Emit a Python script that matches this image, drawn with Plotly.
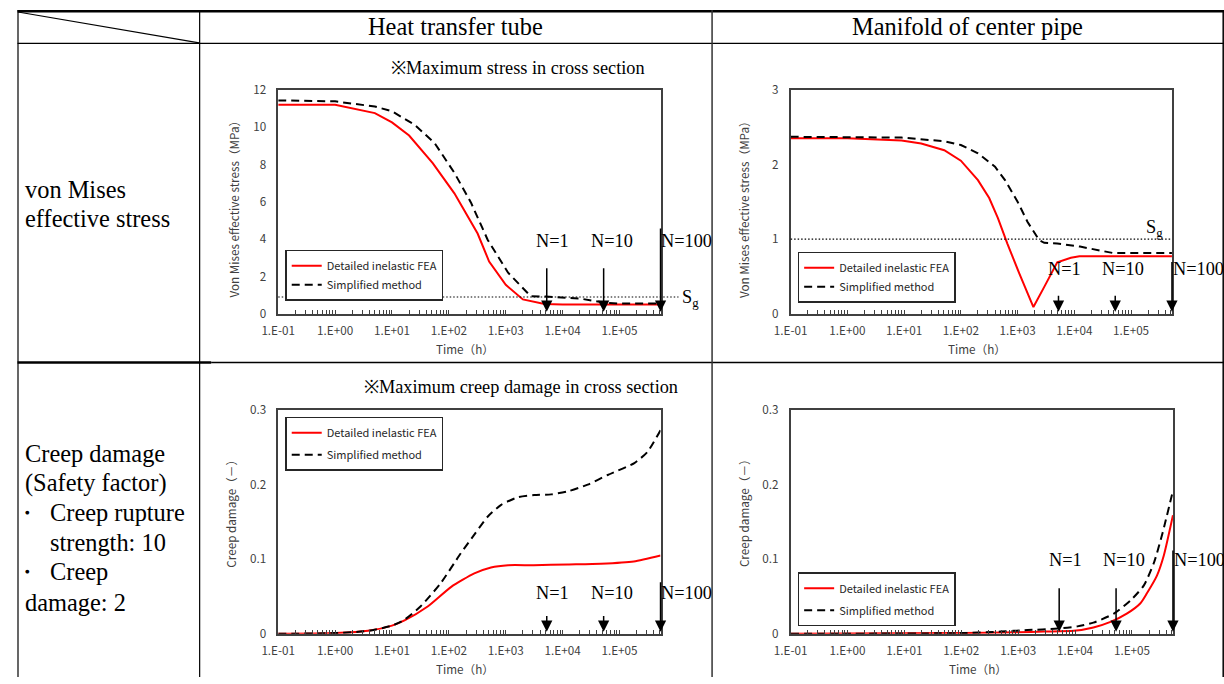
import math
import plotly.graph_objects as go

W, H = 1224, 684
SERIF = "'Liberation Serif', 'Times New Roman', serif"
SANS = "'Noto Sans CJK JP', 'Noto Sans', sans-serif"
FRAME = "#404040"
TXT = "#404040"

# placement helpers: page pixel position -> paper fraction
# (the figure is displayed inside the page box x 16..1222, y 8..677)
BOX_L, BOX_R, BOX_T, BOX_B = 16.0, 1222.0, 8.0, 677.0
SX = (BOX_R - BOX_L) / W
SY = (BOX_B - BOX_T) / H


def fx(x):
    return (x - BOX_L) / (BOX_R - BOX_L)


def fy(y):
    return 1 - (y - BOX_T) / (BOX_B - BOX_T)


def fs(size):
    return round(size / SX, 1)


# ---- time axis (hours) ----
T_END = 525600  # 60 years
TIME_TICKS = [1e-1, 1e0, 1e1, 1e2, 1e3, 1e4, 1e5]
TIME_TICK_TEXT = ["1.E-01", "1.E+00", "1.E+01", "1.E+02", "1.E+03", "1.E+04", "1.E+05"]
MINOR_TICKS = [m * 10 ** k for k in range(-1, 6) for m in range(2, 10) if m * 10 ** k <= T_END]

# cycle counts marked by arrows
N_TIMES = [5256, 52560, 525600]
N_LABELS = ["N=1", "N=10", "N=100"]

# ---- von Mises effective stress, heat transfer tube (MPa) ----
T_TUBE_FEA = [0.1, 1, 5, 10, 20, 52, 125, 320, 510, 1000, 2000, 4800, 10000, 525600]
S_TUBE_FEA = [11.2, 11.2, 10.75, 10.25, 9.55, 8.07, 6.45, 4.3, 2.8, 1.55, 0.77, 0.53, 0.5, 0.5]
T_TUBE_SIM = [0.1, 1, 5, 10, 25, 56, 125, 245, 480, 1100, 2750, 5000, 20000, 52560, 100000, 525600]
S_TUBE_SIM = [11.43, 11.38, 11.1, 10.85, 10.12, 9.15, 7.55, 5.95, 3.97, 2.2, 0.94, 0.92, 0.82, 0.6, 0.55, 0.55]
SG_TUBE = 0.9

# ---- von Mises effective stress, manifold of center pipe (MPa) ----
T_MAN_FEA = [0.1, 1, 9, 20, 51, 100, 200, 316, 450, 660, 1070, 1900, 2950, 5000, 8700, 12300, 525600]
S_MAN_FEA = [2.35, 2.35, 2.32, 2.28, 2.19, 2.05, 1.79, 1.55, 1.28, 0.94, 0.54, 0.09, 0.36, 0.69, 0.75, 0.77, 0.77]
T_MAN_SIM = [0.1, 9, 51, 100, 200, 400, 600, 1000, 1500, 2400, 2950, 5000, 12600, 47000, 525600]
S_MAN_SIM = [2.37, 2.36, 2.31, 2.26, 2.15, 1.97, 1.79, 1.50, 1.23, 0.985, 0.95, 0.94, 0.90, 0.815, 0.815]
SG_MAN = 1.0

# ---- creep damage, heat transfer tube (-) ----
T_DT_FEA = [0.1, 1, 3.8, 10, 16.6, 43, 110, 280, 550, 1100, 3100, 12300, 47000, 178000, 525600]
D_DT_FEA = [0.0, 0.001, 0.004, 0.011, 0.018, 0.037, 0.063, 0.081, 0.089, 0.092, 0.092, 0.093, 0.094, 0.097, 0.105]
T_DT_SIM = [0.1, 1, 3.8, 10, 16.6, 32, 72, 162, 280, 480, 830, 1620, 3160, 6300, 12300, 27500, 62000, 182000, 310000, 525600]
D_DT_SIM = [0.0, 0.001, 0.004, 0.011, 0.019, 0.037, 0.068, 0.108, 0.133, 0.157, 0.173, 0.183, 0.186, 0.187, 0.191, 0.200, 0.213, 0.229, 0.244, 0.273]

# ---- creep damage, manifold of center pipe (-) ----
T_DM_FEA = [0.1, 100, 1000, 2900, 9500, 21000, 42000, 81000, 141000, 182000, 275000, 363000, 525600]
D_DM_FEA = [0.0, 0.001, 0.002, 0.003, 0.004, 0.0085, 0.016, 0.027, 0.041, 0.054, 0.078, 0.105, 0.159]
T_DM_SIM = [0.1, 100, 490, 1450, 4900, 11000, 21000, 48000, 95000, 162000, 245000, 347000, 525600]
D_DM_SIM = [0.0, 0.001, 0.003, 0.005, 0.007, 0.010, 0.015, 0.027, 0.045, 0.065, 0.096, 0.136, 0.192]

NAME_FEA = "Detailed inelastic FEA"
NAME_SIM = "Simplified method"
STRESS_TITLE = "Von Mises effective stress（MPa）"
DAMAGE_TITLE = "Creep damage（－）"
TIME_TITLE = "Time（h）"

# panel layout: pixel box (left, top, right, bottom) and decorations
panels = [
    dict(box=(277, 88, 659, 312.7), yrange=(0, 12), dtick=2, ytitle=STRESS_TITLE, ytitle_xy=(232, 205),
         data=((T_TUBE_FEA, S_TUBE_FEA), (T_TUBE_SIM, S_TUBE_SIM)), shape="linear",
         legend=(284, 274), leg_gap=0, arrow_len=(46, 46, 85), label_y=240, sg=SG_TUBE, sg_x1=1.047,
         sg_label=dict(x=1.052, anchor="left", yanchor="middle", yshift=-2)),
    dict(box=(789, 88, 1170, 312.7), yrange=(0, 3), dtick=1, ytitle=STRESS_TITLE, ytitle_xy=(742, 205),
         data=((T_MAN_FEA, S_MAN_FEA), (T_MAN_SIM, S_MAN_SIM)), shape="linear",
         legend=(796, 276), leg_gap=0, arrow_len=(19, 19, 52), label_y=268, sg=SG_MAN, sg_x1=1.0,
         sg_label=dict(x=0.955, anchor="center", yanchor="bottom", yshift=-3)),
    dict(box=(277, 409.3, 659, 633.7), yrange=(0, 0.3), dtick=0.1, ytitle=DAMAGE_TITLE, ytitle_xy=(229, 510),
         data=((T_DT_FEA, D_DT_FEA), (T_DT_SIM, D_DT_SIM)), shape="spline",
         legend=(284, 443), leg_gap=3, arrow_len=(19, 19, 52), label_y=593, sg=None),
    dict(box=(789, 409.3, 1171, 633.7), yrange=(0, 0.3), dtick=0.1, ytitle=DAMAGE_TITLE, ytitle_xy=(742, 510),
         data=((T_DM_FEA, D_DM_FEA), (T_DM_SIM, D_DM_SIM)), shape="spline",
         legend=(796, 599), leg_gap=3, arrow_len=(46, 46, 83), label_y=560, sg=None),
]
LABEL_SHIFT = (6, 8, 26)

fig = go.Figure()
annotations = []
shapes = []
layout = {}

for i, p in enumerate(panels):
    k = "" if i == 0 else str(i + 1)
    L, T, R, B = p["box"]
    leg = "legend" + k
    (tf, vf), (ts, vs) = p["data"]
    line_kw = dict(shape=p["shape"], smoothing=0.6) if p["shape"] == "spline" else dict(shape="linear")
    fig.add_trace(go.Scatter(x=tf, y=vf, mode="lines", name=NAME_FEA, xaxis="x" + k, yaxis="y" + k,
                             legend=leg, legendgroup="fea" + k,
                             line=dict(color="#ff0000", width=2, **line_kw)))
    fig.add_trace(go.Scatter(x=ts, y=vs, mode="lines", name=NAME_SIM, xaxis="x" + k, yaxis="y" + k,
                             legend=leg, legendgroup="sim" + k,
                             line=dict(color="black", width=2, dash="8px,5px", **line_kw)))

    layout["xaxis" + k] = dict(
        type="log", range=[-1, math.log10(T_END)], domain=[fx(L), fx(R)], anchor="y" + k,
        tickmode="array", tickvals=TIME_TICKS, ticktext=TIME_TICK_TEXT,
        ticks="inside", ticklen=4, tickwidth=1, tickcolor=FRAME,
        minor=dict(tickmode="array", tickvals=MINOR_TICKS, ticks="inside", ticklen=4,
                   tickwidth=1, tickcolor=FRAME, showgrid=False),
        showline=True, linecolor=FRAME, linewidth=1.5, mirror=True,
        showgrid=False, zeroline=False, ticklabelstandoff=5,
        tickfont=dict(family=SANS, size=fs(11.5), color=TXT))
    layout["yaxis" + k] = dict(
        range=list(p["yrange"]), tick0=0, dtick=p["dtick"], domain=[fy(B), fy(T)], anchor="x" + k,
        ticks="", showline=True, linecolor=FRAME, linewidth=1.5, mirror=True,
        showgrid=False, zeroline=False, ticklabelstandoff=8,
        tickfont=dict(family=SANS, size=fs(11.5), color=TXT))

    lx, ly = p["legend"]
    layout[leg] = dict(x=fx(lx), y=fy(ly), xanchor="left", yanchor="middle",
                       bordercolor="#262626", borderwidth=1.5, bgcolor="white",
                       font=dict(family=SANS, size=fs(10.8), color="#262626"),
                       traceorder="grouped", tracegroupgap=p["leg_gap"], itemwidth=30)

    # axis titles
    annotations.append(dict(text=TIME_TITLE, xref="paper", yref="paper",
                            x=fx((L + R) / 2 - 4), y=fy(B + 35), xanchor="center", yanchor="middle",
                            showarrow=False, font=dict(family=SANS, size=fs(11.5), color=TXT)))
    tx, ty = p["ytitle_xy"]
    annotations.append(dict(text=p["ytitle"], xref="paper", yref="paper", x=fx(tx), y=fy(ty),
                            xanchor="center", yanchor="middle", textangle=-90, showarrow=False,
                            font=dict(family=SANS, size=fs(11.5), color=TXT)))

    # arrows marking cycle counts
    for t, lab, alen, sh in zip(N_TIMES, N_LABELS, p["arrow_len"], LABEL_SHIFT):
        annotations.append(dict(text="", xref="x" + k, yref="y" + k, x=math.log10(t), y=0,
                                showarrow=True, ax=0, ay=-alen / SY, arrowhead=2, arrowsize=1.5,
                                arrowwidth=1.5, arrowcolor="black", standoff=2))
        annotations.append(dict(text=lab, xref="x" + k, yref="paper", x=math.log10(t), xshift=sh / SX,
                                y=fy(p["label_y"]), xanchor="center", yanchor="middle",
                                showarrow=False, font=dict(family=SERIF, size=fs(18), color="black")))

    # allowable stress S_g reference line
    if p["sg"] is not None:
        yfrac = p["sg"] / p["yrange"][1]
        shapes.append(dict(type="line", xref="x%s domain" % k, yref="y%s domain" % k,
                           x0=0, x1=p["sg_x1"], y0=yfrac, y1=yfrac,
                           line=dict(color="black", width=1.2, dash="1.5px,2px")))
        s = p["sg_label"]
        annotations.append(dict(text="S<sub>g</sub>", xref="x%s domain" % k, yref="y%s domain" % k,
                                x=s["x"], y=yfrac, xanchor=s["anchor"], yanchor=s["yanchor"],
                                yshift=s["yshift"], showarrow=False,
                                font=dict(family=SERIF, size=fs(18), color="black")))

# panel notes
annotations.append(dict(text="※Maximum stress in cross section", xref="paper", yref="paper",
                        x=fx(517), y=fy(66), xanchor="center", yanchor="middle", showarrow=False,
                        font=dict(family=SERIF, size=fs(18), color="black")))
annotations.append(dict(text="※Maximum creep damage in cross section", xref="paper", yref="paper",
                        x=fx(520), y=fy(386), xanchor="center", yanchor="middle", showarrow=False,
                        font=dict(family=SERIF, size=fs(18), color="black")))


# ---- table frame ----
def hline(y, x0, x1, w=1.0):
    shapes.append(dict(type="line", xref="paper", yref="paper", x0=fx(x0), x1=fx(x1),
                       y0=fy(y), y1=fy(y), line=dict(color="black", width=w)))


def vline(x, y0, y1, w=1.0, color="black"):
    shapes.append(dict(type="line", xref="paper", yref="paper", x0=fx(x), x1=fx(x),
                       y0=fy(y0), y1=fy(y1), line=dict(color=color, width=w)))


hline(9.2, 16.5, 1222, 2.5)
hline(41.5, 16.5, 1222, 1.2)
hline(361.5, 16.5, 210, 2.5)
hline(361.5, 210, 1222, 1.5)
vline(17, 8, 677, 1.2)
vline(198.5, 8, 677, 1.2)
vline(710.5, 8, 677, 1.5, "#333333")
vline(1221.2, 8, 677, 1.5)
shapes.append(dict(type="line", xref="paper", yref="paper", x0=fx(17), y0=fy(10),
                   x1=fx(198), y1=fy(41), line=dict(color="black", width=1.2)))


# ---- table text ----
def cell_text(text, x, y, anchor="left"):
    annotations.append(dict(text=text, xref="paper", yref="paper", x=fx(x), y=fy(y),
                            xanchor=anchor, yanchor="middle", showarrow=False,
                            font=dict(family=SERIF, size=fs(24), color="black")))


cell_text("Heat transfer tube", 454, 25, "center")
cell_text("Manifold of center pipe", 966, 25, "center")
cell_text("von Mises", 22, 188)
cell_text("effective stress", 22, 217)
cell_text("Creep damage", 22, 453)
cell_text("(Safety factor)", 22, 482)
cell_text("・", 26, 512, "center")
cell_text("Creep rupture", 47, 512)
cell_text("strength: 10", 47, 542)
cell_text("・", 26, 571, "center")
cell_text("Creep", 47, 571)
cell_text("damage: 2", 22, 602)

fig.update_layout(
    width=W, height=H, margin=dict(l=0, r=0, t=0, b=0),
    paper_bgcolor="white", plot_bgcolor="white",
    annotations=annotations, shapes=shapes, **layout)

fig.write_html("out.html")
